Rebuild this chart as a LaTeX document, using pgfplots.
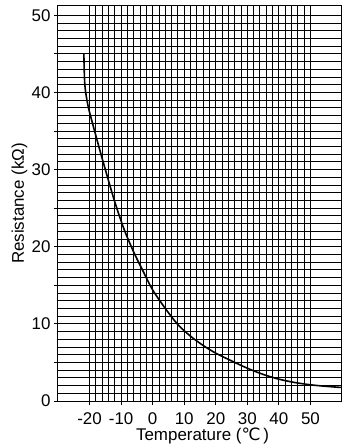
\documentclass[border=0pt]{standalone}
\usepackage{fontspec}
\setmainfont{Liberation Sans}
\newfontfamily\dejavu{DejaVu Sans}
\usepackage{pgfplots}
\pgfplotsset{compat=1.18}
\begin{document}
\begin{tikzpicture}
\begin{axis}[
  scale only axis,
  width=284bp, height=395bp,
  xmin=-30, xmax=60, ymin=0, ymax=51.2,
  xtick={-20,-10,0,10,20,30,40,50},
  xticklabels={-20,-10,0,10,20,30,40,50},
  minor x tick num=4,
  ytick={0,10,20,30,40,50},
  minor y tick num=9,
  extra y ticks={5,15,25,35,45},
  extra y tick labels={},
  extra y tick style={grid=none},
  tick align=outside,
  major tick length=4bp,
  minor tick length=0pt,
  xtick pos=bottom, ytick pos=left,
  grid=both,
  major grid style={black, line width=0.9bp},
  minor grid style={black, line width=0.9bp},
  axis line style={black, line width=1bp},
  every tick/.style={black, line width=0.9bp},
  /pgf/number format/assume math mode=true,
  tick label style={font=\fontsize{17}{20}\selectfont},
  label style={font=\fontsize{17}{20}\selectfont},
  xticklabel style={yshift=-4.5bp},
  yticklabel style={xshift=0bp},
  xlabel={Temperature ({\dejavu ℃}\,)},
  ylabel={Resistance (kΩ)},
  xlabel style={at={(axis description cs:0.509,-0.088)}, anchor=center},
  ylabel style={at={(axis description cs:-0.1356,0.5)}, anchor=center},
]
\addplot[black, line width=1.6bp, smooth] coordinates {
(-21.8,45.0) (-21.5,41.0) (-20.5,38.3) (-19,35.9) (-17,32.9) (-15,30.0)
(-12,25.8) (-9,22.2) (-6,19.3) (-3,16.8) (0,14.4) (4,12.0) (8,9.9)
(12,8.4) (16,7.2) (20,6.2) (25,5.2) (30,4.25) (35,3.45) (40,2.83)
(45,2.4) (50,2.1) (55,1.9) (60,1.75)
};
\end{axis}
\pgfresetboundingbox
\useasboundingbox (-58bp,-46bp) rectangle (297bp,401bp);
\end{tikzpicture}
\end{document}
